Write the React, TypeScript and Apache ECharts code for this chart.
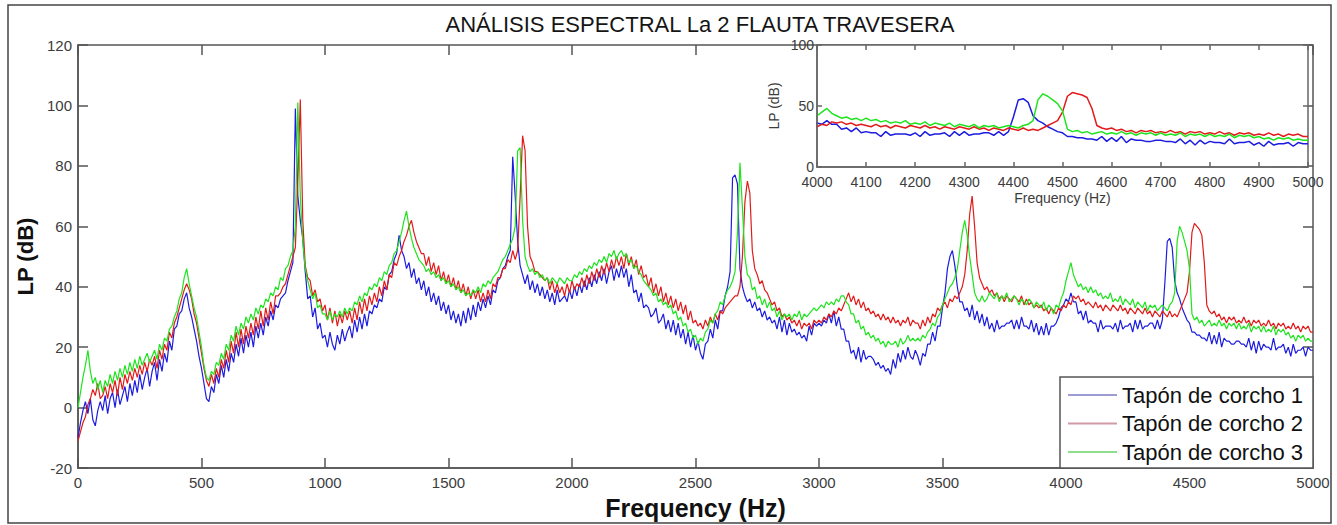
import React, { useEffect, useRef } from "react";
import * as echarts from "echarts";

const FREQ_STEP = 10; // Hz between consecutive samples, starting at 0 Hz
const TITLE = "ANÁLISIS ESPECTRAL La 2 FLAUTA TRAVESERA";
const SERIES_NAMES = ["Tapón de corcho 1", "Tapón de corcho 2", "Tapón de corcho 3"];
const SERIES_COLORS = ["#1c1ce0", "#e21a1a", "#1ee41e"];
const LEGEND_COLORS = ["#9c9cd2", "#d29aa6", "#8ede8e"];

// Tapón de corcho 1 (blue), LP in dB, every 10 Hz from 0 to 5000 Hz
const BLUE = [
  -10, -5, -1, 2, -2, 3, -4, -6, -1, 2,
  -1, 4, -2, 3, 5, 0, 6, 1, 4, 7,
  2, 8, 4, 9, 5, 11, 6, 10, 13, 7,
  12, 15, 9, 16, 12, 18, 15, 22, 19, 26,
  27, 31, 32, 36, 38, 33, 30, 26, 22, 17,
  13, 8, 3, 2, 7, 5, 11, 8, 14, 10,
  16, 12, 18, 15, 21, 17, 23, 18, 24, 20,
  25, 20, 27, 23, 28, 24, 30, 27, 32, 29,
  34, 33, 36, 37, 38, 42, 45, 48, 99, 70,
  62, 56, 45, 36, 37, 30, 33, 26, 28, 23,
  24, 20, 25, 21, 19, 24, 21, 26, 22, 25,
  27, 23, 29, 25, 30, 26, 31, 27, 32, 31,
  34, 33, 36, 35, 40, 39, 44, 45, 49, 51,
  57, 52, 50, 46, 48, 43, 46, 41, 43, 39,
  42, 37, 40, 35, 38, 34, 37, 32, 35, 31,
  34, 29, 32, 28, 31, 27, 32, 28, 33, 29,
  34, 30, 35, 32, 36, 33, 37, 34, 39, 38,
  42, 43, 46, 47, 50, 52, 83, 70, 55, 47,
  44, 41, 44, 39, 42, 38, 41, 37, 40, 36,
  39, 35, 38, 34, 39, 35, 36, 37, 35, 39,
  36, 40, 37, 41, 38, 42, 39, 43, 40, 44,
  41, 45, 42, 46, 41, 45, 47, 42, 46, 43,
  47, 43, 46, 40, 44, 38, 39, 35, 38, 33,
  34, 33, 30, 31, 33, 28, 29, 31, 26, 29,
  25, 29, 24, 28, 23, 26, 21, 25, 20, 24,
  19, 22, 18, 16, 21, 22, 26, 23, 29, 26,
  32, 32, 37, 40, 45, 76, 77, 74, 46, 40,
  37, 35, 36, 33, 35, 32, 33, 30, 32, 29,
  30, 28, 29, 26, 30, 25, 29, 24, 28, 25,
  26, 24, 25, 23, 24, 22, 27, 24, 28, 27,
  28, 27, 29, 28, 31, 28, 32, 27, 30, 26,
  26, 22, 22, 18, 19, 16, 20, 15, 19, 16,
  17, 17, 16, 14, 15, 13, 14, 12, 13, 11,
  16, 13, 18, 15, 19, 16, 20, 17, 16, 19,
  17, 14, 18, 17, 21, 21, 25, 22, 27, 27,
  33, 38, 46, 50, 52, 47, 40, 35, 35, 32,
  33, 30, 34, 29, 32, 28, 31, 27, 30, 26,
  28, 25, 29, 26, 27, 27, 28, 28, 29, 26,
  29, 26, 30, 27, 27, 26, 29, 25, 28, 24,
  27, 24, 28, 24, 27, 27, 28, 30, 33, 34,
  36, 35, 38, 35, 35, 31, 32, 29, 32, 28,
  29, 28, 28, 25, 29, 26, 27, 27, 27, 26,
  28, 25, 29, 26, 27, 27, 28, 25, 29, 26,
  29, 26, 27, 27, 28, 28, 26, 29, 26, 29,
  41, 55, 56, 53, 42, 38, 36, 33, 31, 29,
  28, 25, 25, 24, 24, 23, 23, 22, 25, 21,
  24, 21, 25, 20, 23, 22, 22, 21, 21, 22,
  22, 21, 21, 20, 23, 19, 22, 18, 22, 19,
  21, 20, 20, 19, 23, 19, 20, 20, 21, 18,
  20, 17, 21, 18, 19, 19, 20, 17, 20, 19,
  19,
];

// Tapón de corcho 2 (red)
const RED = [
  -11, -8, -5, -3, 1, 3, 6, 4, 8, 3,
  4, 7, 3, 8, 5, 9, 4, 10, 6, 11,
  8, 12, 9, 13, 10, 14, 11, 15, 12, 16,
  14, 17, 13, 19, 16, 21, 19, 25, 23, 28,
  30, 33, 36, 39, 41, 39, 36, 31, 28, 23,
  18, 13, 9, 7, 11, 8, 13, 10, 16, 13,
  19, 15, 22, 18, 25, 20, 26, 21, 27, 23,
  28, 24, 30, 26, 32, 27, 33, 29, 35, 31,
  37, 37, 38, 40, 41, 44, 47, 50, 53, 75,
  102, 62, 47, 43, 42, 37, 39, 35, 36, 32,
  34, 29, 33, 28, 32, 27, 31, 28, 32, 29,
  32, 28, 33, 29, 35, 31, 36, 32, 37, 34,
  38, 35, 40, 37, 42, 39, 44, 43, 48, 47,
  50, 52, 55, 57, 60, 62, 58, 55, 53, 51,
  51, 47, 50, 45, 48, 44, 47, 42, 45, 41,
  44, 40, 43, 39, 42, 38, 41, 37, 40, 36,
  39, 36, 39, 35, 38, 35, 39, 36, 41, 40,
  43, 43, 46, 46, 49, 48, 52, 49, 52, 70,
  90, 85, 60, 50, 48, 45, 45, 44, 43, 42,
  43, 39, 42, 38, 41, 38, 40, 37, 41, 38,
  42, 39, 41, 40, 43, 40, 44, 41, 45, 42,
  46, 43, 47, 44, 48, 45, 49, 46, 50, 47,
  50, 46, 51, 47, 50, 46, 49, 44, 47, 43,
  44, 40, 43, 38, 41, 37, 40, 35, 38, 34,
  37, 33, 36, 32, 35, 31, 34, 29, 32, 28,
  29, 27, 28, 26, 29, 27, 30, 28, 31, 29,
  32, 31, 33, 34, 35, 36, 37, 37, 40, 50,
  68, 75, 71, 52, 46, 44, 41, 42, 39, 38,
  36, 34, 35, 32, 33, 30, 31, 29, 30, 28,
  29, 27, 29, 26, 28, 27, 28, 26, 29, 28,
  29, 28, 30, 29, 31, 30, 32, 31, 33, 32,
  34, 36, 38, 35, 37, 34, 36, 33, 35, 32,
  33, 31, 32, 30, 31, 29, 31, 29, 30, 28,
  30, 28, 29, 27, 29, 28, 30, 27, 29, 28,
  28, 26, 29, 27, 30, 28, 31, 30, 33, 32,
  34, 35, 33, 36, 35, 37, 36, 38, 40, 44,
  52, 64, 70, 60, 48, 43, 41, 39, 40, 38,
  39, 37, 38, 36, 37, 35, 37, 36, 35, 37,
  36, 35, 37, 34, 36, 34, 35, 33, 34, 33,
  34, 32, 33, 31, 33, 32, 31, 33, 32, 34,
  33, 35, 34, 37, 36, 37, 35, 36, 34, 35,
  34, 33, 35, 33, 34, 32, 34, 33, 32, 34,
  33, 32, 34, 32, 33, 31, 33, 32, 31, 33,
  32, 31, 33, 31, 32, 30, 32, 31, 30, 32,
  31, 30, 32, 30, 31, 30, 32, 34, 36, 38,
  45, 58, 61, 60, 59, 57, 48, 34, 32, 31,
  32, 30, 31, 29, 30, 28, 30, 29, 30, 28,
  29, 28, 30, 28, 29, 27, 29, 28, 29, 27,
  28, 27, 29, 27, 28, 26, 28, 27, 28, 26,
  27, 26, 28, 26, 27, 25, 27, 26, 27, 25,
  25,
];

// Tapón de corcho 3 (green)
const GREEN = [
  0, 5, 10, 14, 19, 12, 8, 10, 6, 9,
  5, 9, 7, 11, 8, 12, 9, 13, 10, 14,
  11, 15, 12, 16, 13, 17, 14, 16, 18, 15,
  17, 19, 16, 21, 19, 23, 22, 26, 27, 30,
  32, 36, 38, 43, 46, 41, 37, 33, 30, 25,
  20, 14, 10, 9, 12, 11, 15, 14, 18, 16,
  21, 19, 24, 22, 27, 24, 28, 26, 30, 28,
  31, 29, 33, 31, 34, 33, 36, 35, 38, 37,
  40, 39, 43, 42, 46, 47, 50, 52, 60, 101,
  70, 55, 46, 42, 39, 36, 38, 33, 34, 31,
  31, 29, 32, 29, 31, 30, 32, 30, 33, 31,
  33, 32, 35, 34, 37, 35, 38, 37, 40, 39,
  41, 40, 43, 42, 45, 44, 47, 48, 51, 52,
  55, 58, 62, 65, 60, 56, 53, 51, 49, 48,
  47, 45, 46, 44, 45, 43, 44, 42, 43, 41,
  42, 40, 41, 39, 40, 38, 39, 37, 38, 37,
  39, 38, 40, 38, 41, 40, 42, 41, 43, 44,
  45, 47, 49, 50, 52, 54, 56, 60, 85, 86,
  62, 50, 47, 45, 46, 44, 45, 43, 44, 42,
  43, 41, 43, 42, 41, 43, 42, 41, 43, 42,
  42, 44, 43, 45, 44, 46, 45, 47, 46, 48,
  47, 49, 48, 50, 48, 51, 50, 52, 49, 51,
  52, 50, 51, 48, 49, 46, 47, 45, 44, 42,
  41, 40, 39, 37, 38, 35, 36, 34, 35, 33,
  34, 31, 32, 29, 30, 27, 28, 25, 26, 23,
  24, 21, 23, 22, 25, 26, 29, 28, 31, 32,
  35, 34, 37, 39, 40, 42, 45, 58, 81, 66,
  50, 44, 43, 39, 40, 36, 37, 34, 36, 33,
  35, 32, 33, 30, 32, 29, 31, 30, 31, 29,
  31, 30, 32, 29, 31, 30, 31, 32, 33, 32,
  33, 34, 33, 35, 34, 35, 34, 36, 35, 37,
  37, 35, 34, 31, 31, 28, 29, 26, 27, 24,
  25, 23, 24, 22, 23, 21, 22, 20, 22, 21,
  21, 22, 20, 23, 21, 22, 24, 22, 23, 22,
  23, 22, 24, 23, 25, 26, 28, 27, 30, 31,
  34, 36, 38, 40, 41, 43, 46, 52, 58, 62,
  57, 50, 44, 38, 36, 35, 37, 35, 36, 38,
  37, 36, 38, 35, 37, 36, 38, 35, 36, 37,
  36, 34, 36, 35, 34, 36, 35, 33, 35, 34,
  33, 35, 32, 34, 33, 31, 34, 33, 36, 38,
  42, 45, 48, 44, 42, 40, 41, 39, 40, 38,
  40, 38, 39, 37, 38, 36, 37, 36, 38, 35,
  36, 35, 37, 34, 36, 35, 34, 36, 33, 35,
  34, 33, 35, 32, 34, 33, 34, 32, 33, 34,
  33, 32, 34, 35, 38, 55, 60, 58, 55, 52,
  46, 31, 29, 30, 28, 29, 27, 28, 29, 27,
  28, 27, 29, 27, 28, 26, 28, 27, 28, 26,
  28, 26, 27, 26, 28, 25, 27, 26, 27, 25,
  27, 25, 26, 25, 27, 24, 26, 25, 26, 24,
  25, 23, 24, 22, 24, 23, 24, 22, 23, 22,
  22,
];

const SERIES_VALUES = [BLUE, RED, GREEN];

const FONT = "'Liberation Sans', Arial, Helvetica, sans-serif";
const AXIS_COLOR = "#555";
const LABEL_COLOR = "#3c3c3c";
const plain = (v: number) => String(v);

export default function App() {
  const ref = useRef<HTMLDivElement>(null);

  useEffect(() => {
    if (!ref.current) return;
    const chart = echarts.init(ref.current, null, { renderer: "svg" });
    const toPairs = (vals: number[]) => vals.map((v, i) => [i * FREQ_STEP, v]);

    const axisLine = { show: true, onZero: false, lineStyle: { color: AXIS_COLOR, width: 1.5 } };
    const noLine = { show: false, onZero: false };
    const tick = (len: number, color = AXIS_COLOR) => ({ show: true, inside: true, length: len, lineStyle: { color, width: 1.5 } });

    const mainSeries = SERIES_VALUES.map((vals, i) => ({
      name: SERIES_NAMES[i],
      type: "line",
      xAxisIndex: 0,
      yAxisIndex: 0,
      data: toPairs(vals),
      showSymbol: false,
      symbol: "none",
      lineStyle: { color: SERIES_COLORS[i], width: 1.2 },
      itemStyle: { color: SERIES_COLORS[i] },
      z: 2,
      silent: true,
    }));
    const insetSeries = SERIES_VALUES.map((vals, i) => ({
      name: SERIES_NAMES[i],
      type: "line",
      xAxisIndex: 2,
      yAxisIndex: 2,
      data: toPairs(vals),
      showSymbol: false,
      symbol: "none",
      lineStyle: { color: SERIES_COLORS[i], width: 1.5 },
      itemStyle: { color: SERIES_COLORS[i] },
      z: 4,
      silent: true,
    }));

    const option: any = {
      animation: false,
      backgroundColor: "#fff",
      title: {
        text: TITLE,
        left: 695,
        textAlign: "center",
        top: 8,
        textStyle: { fontFamily: FONT, fontSize: 22, fontWeight: "normal", color: "#151515" },
      },
      grid: [
        { left: 78, right: 24, top: 45, bottom: 54, show: true, borderColor: AXIS_COLOR, borderWidth: 1.5, backgroundColor: "#fff", z: 0 },
        { left: 817, right: 29, top: 45, bottom: 358, show: true, borderColor: "#666", borderWidth: 1.5, backgroundColor: "#fff", z: 3 },
      ],
      xAxis: [
        {
          type: "value", gridIndex: 0, min: 0, max: 5000, interval: 500, position: "bottom",
          name: "Frequency (Hz)", nameLocation: "middle", nameGap: 24,
          nameTextStyle: { fontFamily: FONT, fontSize: 25, fontWeight: "bold", color: "#111", verticalAlign: "top" },
          axisLine, axisTick: tick(10),
          axisLabel: { fontFamily: FONT, fontSize: 15, color: LABEL_COLOR, margin: 7, formatter: plain },
          splitLine: { show: false },
        },
        {
          type: "value", gridIndex: 0, min: 0, max: 5000, interval: 500, position: "top",
          axisLine: noLine, axisTick: tick(10), axisLabel: { show: false }, splitLine: { show: false },
        },
        {
          type: "value", gridIndex: 1, min: 4000, max: 5000, interval: 100, position: "bottom", z: 5,
          name: "Frequency (Hz)", nameLocation: "middle", nameGap: 24,
          nameTextStyle: { fontFamily: FONT, fontSize: 14, color: LABEL_COLOR, verticalAlign: "top" },
          axisLine: { show: true, onZero: false, lineStyle: { color: "#666", width: 1.5 } },
          axisTick: tick(5, "#666"),
          axisLabel: { fontFamily: FONT, fontSize: 14, color: LABEL_COLOR, margin: 8, formatter: plain },
          splitLine: { show: false },
        },
        {
          type: "value", gridIndex: 1, min: 4000, max: 5000, interval: 100, position: "top", z: 5,
          axisLine: noLine, axisTick: tick(5, "#666"), axisLabel: { show: false }, splitLine: { show: false },
        },
      ],
      yAxis: [
        {
          type: "value", gridIndex: 0, min: -20, max: 120, interval: 20, position: "left",
          name: "LP (dB)", nameLocation: "middle", nameGap: 37, nameRotate: 90,
          nameTextStyle: { fontFamily: FONT, fontSize: 22, fontWeight: "bold", color: "#111" },
          axisLine, axisTick: tick(10),
          axisLabel: { fontFamily: FONT, fontSize: 15, color: LABEL_COLOR, margin: 6, formatter: plain },
          splitLine: { show: false },
        },
        {
          type: "value", gridIndex: 0, min: -20, max: 120, interval: 20, position: "right",
          axisLine: noLine, axisTick: tick(10), axisLabel: { show: false }, splitLine: { show: false },
        },
        {
          type: "value", gridIndex: 1, min: 0, max: 100, interval: 50, position: "left", z: 5,
          name: "LP (dB)", nameLocation: "middle", nameGap: 36, nameRotate: 90,
          nameTextStyle: { fontFamily: FONT, fontSize: 14, color: LABEL_COLOR },
          axisLine: { show: true, onZero: false, lineStyle: { color: "#666", width: 1.5 } },
          axisTick: tick(5, "#666"),
          axisLabel: { fontFamily: FONT, fontSize: 14, color: LABEL_COLOR, margin: 3, formatter: plain },
          splitLine: { show: false },
        },
        {
          type: "value", gridIndex: 1, min: 0, max: 100, interval: 50, position: "right", z: 5,
          axisLine: noLine, axisTick: tick(5, "#666"), axisLabel: { show: false }, splitLine: { show: false },
        },
      ],
      legend: {
        orient: "vertical",
        left: 1060,
        top: 377,
        icon: "rect",
        itemWidth: 49,
        itemHeight: 2,
        itemGap: 6.5,
        padding: [7, 10, 5, 8],
        borderColor: AXIS_COLOR,
        borderWidth: 1.5,
        backgroundColor: "#fff",
        borderRadius: 0,
        z: 6,
        selectedMode: false,
        textStyle: { fontFamily: FONT, fontSize: 22, color: "#111", lineHeight: 22 },
        data: SERIES_NAMES.map((n, i) => ({
          name: n,
          itemStyle: { color: LEGEND_COLORS[i] },
        })),
      },
      graphic: [
        {
          type: "rect",
          z: 20,
          silent: true,
          shape: { x: 8, y: 5, width: 1323, height: 518 },
          style: { fill: "none", stroke: "#444", lineWidth: 1.5 },
        },
      ],
      series: [...mainSeries, ...insetSeries],
    };

    chart.setOption(option);
    return () => chart.dispose();
  }, []);

  return (
    <div
      ref={ref}
      style={{ position: "fixed", left: 0, top: 0, width: 1337, height: 525, background: "#fff" }}
    />
  );
}
